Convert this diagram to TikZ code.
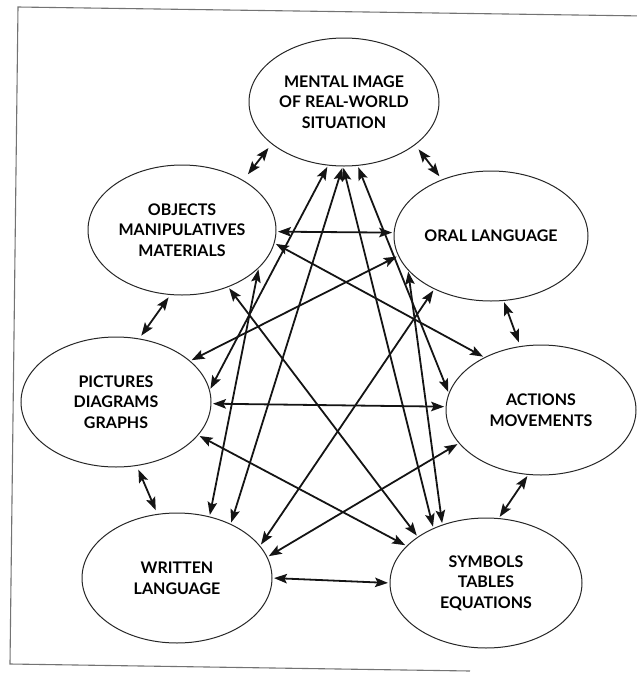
\documentclass[tikz,border=0pt]{standalone}
\usepackage{fontspec}
\setmainfont{Lato}
\usetikzlibrary{shapes.geometric,arrows.meta}
\begin{document}
\begin{tikzpicture}[x=1pt,y=-1pt,
  bubble/.style={ellipse, draw=black!85, line width=1pt, inner sep=0pt, outer sep=0pt,
    align=center, font=\fontsize{16}{20.7}\selectfont\bfseries},
  dbl/.style={line width=1.8pt, draw=black!92,
    {Stealth[length=13pt,width=9.5pt,inset=2.5pt]}-{Stealth[length=13pt,width=9.5pt,inset=2.5pt]},
    shorten <=2pt, shorten >=2pt},
  frameline/.style={draw=black!55, line width=1.1pt}]
\useasboundingbox (0,0) rectangle (637,673);

% frame
\coordinate (f1) at (18,7);
\coordinate (f2) at (645,16);
\coordinate (f3) at (10,664);
\coordinate (f4) at (470,671);
\draw[frameline] (f2) -- (f1) -- (f3) -- (f4);

% nodes
\node[bubble, minimum width=190pt, minimum height=128pt] (M)  at (344,102) {MENTAL IMAGE\\OF REAL-WORLD\\SITUATION};
\node[bubble, minimum width=188pt, minimum height=130pt] (Ob) at (182,230) {OBJECTS\\MANIPULATIVES\\MATERIALS};
\node[bubble, minimum width=194pt, minimum height=130pt] (Or) at (491,236) {ORAL LANGUAGE};
\node[bubble, minimum width=190pt, minimum height=130pt] (P)  at (116,402) {PICTURES\\DIAGRAMS\\GRAPHS};
\node[bubble, minimum width=190pt, minimum height=130pt] (A)  at (541,410) {ACTIONS\\MOVEMENTS};
\node[bubble, minimum width=190pt, minimum height=130pt] (W)  at (177,578) {WRITTEN\\LANGUAGE};
\node[bubble, minimum width=192pt, minimum height=130pt] (S)  at (486,583) {SYMBOLS\\TABLES\\EQUATIONS};

% ring connectors
\draw[dbl, shorten <=5.5pt, shorten >=8pt] (M.210.6) -- (Ob.39.4);
\draw[dbl, shorten <=6pt, shorten >=4.5pt] (M.-31.2) -- (Or.131.9);
\draw[dbl, shorten <=3.5pt, shorten >=4pt] (Ob.-100.8) -- (P.70.3);
\draw[dbl, shorten <=2pt, shorten >=4.5pt] (Or.-79.7) -- (A.108.7);
\draw[dbl, shorten <=4.5pt, shorten >=4.5pt] (P.-72.1) -- (W.107.2);
\draw[dbl] (A.-101) -- (S.79.7);
\draw[dbl] (W.0) -- (S.180);

% cross connectors
\draw[dbl] (Ob.-1) -- (Or.178);
\draw[dbl] (Ob.-8) -- (A.137.3);
\draw[dbl] (Ob.-26.8) -- (W.62.8);
\draw[dbl] (Ob.-51.1) -- (S.146.6);
\draw[dbl] (M.256.4) -- (P.7);
\draw[dbl] (M.269) -- (W.45);
\draw[dbl] (M.269) -- (S.134);
\draw[dbl] (M.-78.2) -- (A.170.4);
\draw[dbl] (Or.192.1) -- (P.29.7);
\draw[dbl] (Or.223.5) -- (W.21);
\draw[dbl] (Or.202.6) -- (S.127.2);
\draw[dbl] (P.-1.2) -- (A.178.8);
\draw[dbl] (P.-22.9) -- (S.155.1);
\draw[dbl] (A.202.7) -- (W.13);
\end{tikzpicture}
\end{document}
